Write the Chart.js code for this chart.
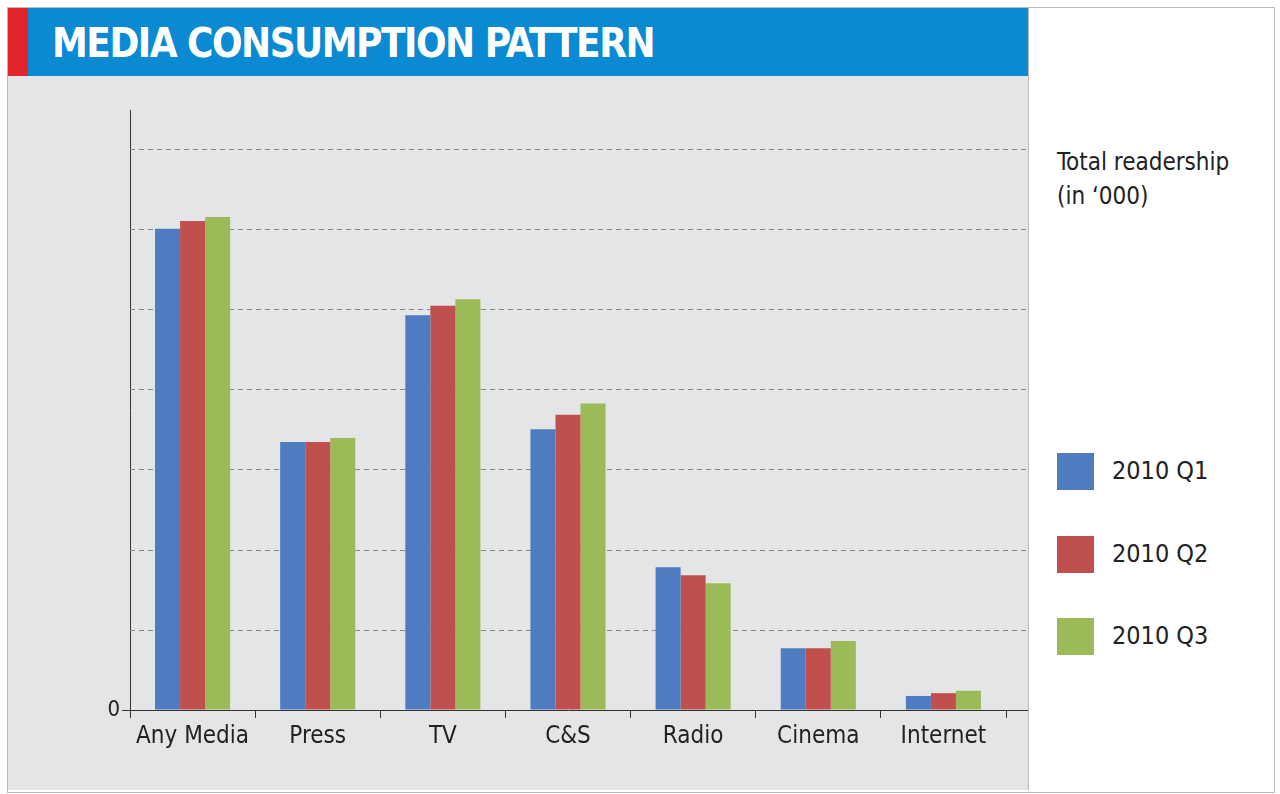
<!DOCTYPE html>
<html><head><meta charset="utf-8">
<script src="https://cdn.jsdelivr.net/npm/chart.js@4"></script>
<style>
body{margin:0;background:#fff;width:1280px;height:794px;position:relative;overflow:hidden;font-family:"DejaVu Sans Condensed","Liberation Sans Narrow",sans-serif}
#frame{position:absolute;left:7px;top:7px;width:1266px;height:784px;border:1px solid #bbb;background:#fff}
#gray{position:absolute;left:8px;top:76px;width:1020px;height:714px;background:#e4e5e6}
#title{position:absolute;left:8px;top:8px;width:1020px;height:68px;background:#0a8ad2}
#red{position:absolute;left:8px;top:8px;width:20px;height:68px;background:#e0262b}
#title span{position:absolute;left:44px;top:12px;color:#fff;font-weight:bold;font-size:40px;letter-spacing:-1.5px}
#vline{position:absolute;left:1028px;top:8px;width:1px;height:782px;background:#bbb}
#cw{position:absolute;left:8px;top:76px;width:1020px;height:714px}
.lg{position:absolute;left:1057px;width:37px;height:37px}
.lt{position:absolute;left:1112px;font-size:25px;color:#222}
#note{position:absolute;left:1057px;top:145px;font-size:24px;line-height:34px;color:#222}
</style></head><body>
<div id="frame"></div>
<div id="gray"></div>
<div id="title"><span>MEDIA CONSUMPTION PATTERN</span></div>
<div id="red"></div>
<div id="vline"></div>
<div id="cw"><canvas id="c" width="1020" height="714"></canvas></div>
<div id="note">Total readership<br>(in ‘000)</div>
<div class="lg" style="top:453px;background:#4f7cc0"></div><div class="lt" style="top:456px">2010 Q1</div>
<div class="lg" style="top:536px;background:#c0504d"></div><div class="lt" style="top:539px">2010 Q2</div>
<div class="lg" style="top:618px;background:#9bbb59"></div><div class="lt" style="top:621px">2010 Q3</div>
<script>
const categories=["Any Media","Press","TV","C&S","Radio","Cinema","Internet"];
const seriesNames=["2010 Q1","2010 Q2","2010 Q3"];
const q1=[600000,334000,492000,350000,178000,77000,17500];
const q2=[609500,334000,504000,368000,168000,77000,21000];
const q3=[614500,339000,512000,382000,158000,86000,24000];
const colors=["#4f7cc0","#c0504d","#9bbb59"];
const font="'DejaVu Sans Condensed','Liberation Sans Narrow',sans-serif";
const extGrid={id:'extGrid',beforeDatasetsDraw(ch){const y=ch.scales.y,ctx=ch.ctx;ctx.save();ctx.strokeStyle='#888';ctx.lineWidth=1;ctx.setLineDash([5,4]);
for(let v=100000;v<=700000;v+=100000){const py=Math.round(y.getPixelForValue(v))+0.5;ctx.beginPath();ctx.moveTo(ch.chartArea.left,py);ctx.lineTo(1020,py);ctx.stroke();}
ctx.setLineDash([]);ctx.strokeStyle='#333';ctx.beginPath();ctx.moveTo(ch.chartArea.right,ch.chartArea.bottom+0.5);ctx.lineTo(1020,ch.chartArea.bottom+0.5);ctx.stroke();ctx.restore();}};
new Chart(document.getElementById('c'),{type:'bar',
data:{labels:categories,datasets:[q1,q2,q3].map((d,i)=>({label:seriesNames[i],data:d,backgroundColor:colors[i],categoryPercentage:0.6,barPercentage:1}))},
options:{responsive:false,animation:false,layout:{padding:{top:34,right:22,left:0,bottom:0}},
plugins:{legend:{display:false},tooltip:{enabled:false}},
scales:{
x:{grid:{offset:true,drawOnChartArea:false,color:'#333',tickLength:8,tickColor:'#333'},border:{color:'#333'},
 ticks:{color:'#222',font:{family:font,size:24},padding:4,maxRotation:0,minRotation:0,autoSkip:false},afterFit(s){s.height=80;}},
y:{min:0,max:748000,grid:{drawOnChartArea:false,tickLength:8,tickColor:'#333'},border:{color:'#333'},
 afterBuildTicks(s){s.ticks=s.ticks.filter(t=>t.value%100000===0);},
 ticks:{stepSize:100000,autoSkip:false,color:'#222',font:{family:font,size:22},padding:2},afterFit(s){s.width=122;}}}},
plugins:[extGrid]});
</script></body></html>
